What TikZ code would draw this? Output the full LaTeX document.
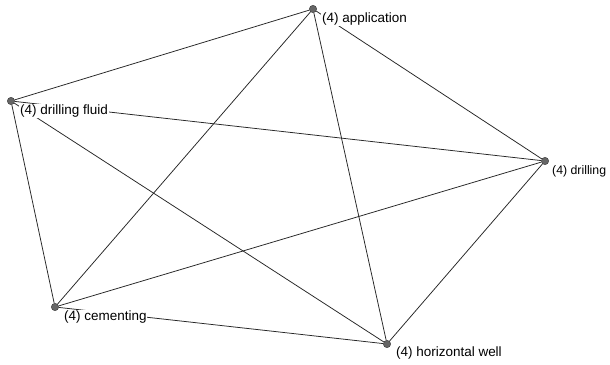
\documentclass[tikz,border=0pt]{standalone}
\usepackage{fontspec}
\setmainfont{Liberation Sans}
\usetikzlibrary{backgrounds}

\begin{document}
\begin{tikzpicture}[
  x=0.03cm, y=-0.03cm,
  term/.style={circle, draw=black!75, fill=black!60, inner sep=0pt,
    minimum size=0.22cm},
  termlabel/.style={anchor=west, fill=white, inner sep=0.8pt,
    font=\fontsize{11.5}{13}\selectfont},
  link/.style={draw=black!85, line width=0.65pt},
  ]
  \useasboundingbox (0,0) rectangle (610,365);

  % Termes
  \node[term] (app)    at (313,9)   {};
  \node[term] (fluid)  at (11,101)  {};
  \node[term] (drill)  at (545,161) {};
  \node[term] (cement) at (55,307)  {};
  \node[term] (hwell)  at (387,344) {};

  % Liens
  \begin{scope}[on background layer]
    \fill[white] (0,0) rectangle (610,365);
    \draw[link] (app) -- (fluid);
    \draw[link] (app) -- (drill);
    \draw[link] (app) -- (cement);
    \draw[link] (app) -- (hwell);
    \draw[link] (fluid) -- (drill);
    \draw[link] (fluid) -- (cement);
    \draw[link] (fluid) -- (hwell);
    \draw[link] (drill) -- (cement);
    \draw[link] (drill) -- (hwell);
    \draw[link] (cement) -- (hwell);
  \end{scope}

  % Etiquettes
  \node[termlabel] (applbl)    at ([shift={(8,10)}]app)    {(4) application};
  \node[termlabel] (fluidlbl)  at ([shift={(8,10)}]fluid)  {(4) drilling fluid};
  \node[termlabel, font=\fontsize{10.5}{12}\selectfont]
                   (drilllbl)  at ([shift={(6,10)}]drill)  {(4) drilling};
  \node[termlabel] (cementlbl) at ([shift={(8,10)}]cement) {(4) cementing};
  \node[termlabel] (hwelllbl)  at ([shift={(8,9)}]hwell)   {(4) horizontal well};
\end{tikzpicture}
\end{document}
